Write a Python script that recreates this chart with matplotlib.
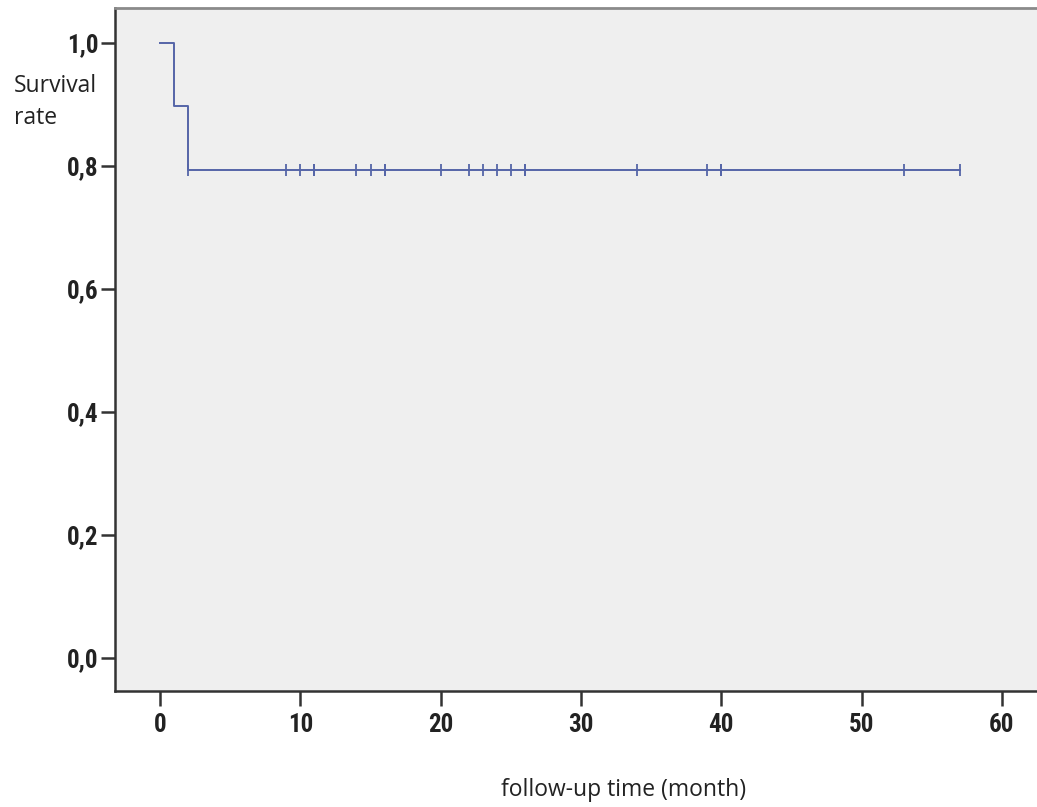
import matplotlib
matplotlib.use("Agg")
import matplotlib.pyplot as plt
from matplotlib import font_manager
import numpy as np

# Kaplan-Meier step data
step_times = [0, 1, 2, 57]
step_surv = [1.0, 0.897, 0.793, 0.793]
censor_times = [2, 9, 10, 11, 11, 14, 15, 16, 16, 20, 22, 23, 24, 25, 26, 26, 34, 39, 40, 40, 53, 57]
censor_surv = 0.793

x_ticks = [0, 10, 20, 30, 40, 50, 60]
y_ticks = [0.0, 0.2, 0.4, 0.6, 0.8, 1.0]
y_labels = ["0,0", "0,2", "0,4", "0,6", "0,8", "1,0"]

names = {f.name for f in font_manager.fontManager.ttflist}
cond = [n for n in ["Liberation Sans Narrow", "Roboto Condensed", "DejaVu Sans Condensed"] if n in names]
tick_family = cond + ["DejaVu Sans"]

W, H = 1037, 807
fig = plt.figure(figsize=(W / 100, H / 100), dpi=100)
fig.patch.set_facecolor("white")
ax = fig.add_axes([115 / W, 1 - 691 / H, (W - 115) / W, (691 - 8) / H])
ax.set_facecolor("#efefef")

line_color = "#5565a8"
ax.step(step_times, step_surv, where="post", color=line_color, lw=1.4)
ax.plot(censor_times, [censor_surv] * len(censor_times), linestyle="none",
        marker="|", markersize=9, markeredgewidth=1.3, color=line_color)

ax.set_xlim(-3.21, 62.5)
ax.set_ylim(-0.054, 1.057)

ax.spines["right"].set_visible(False)
ax.spines["top"].set_color("#8a8a8a")
ax.spines["top"].set_linewidth(2)
ax.spines["left"].set_color("#333333")
ax.spines["bottom"].set_color("#333333")
ax.spines["left"].set_linewidth(1.8)
ax.spines["bottom"].set_linewidth(1.8)

tick_font = dict(family=tick_family, weight="bold", size=18, stretch="condensed")
ax.set_xticks(x_ticks)
ax.set_xticklabels([str(v) for v in x_ticks], fontdict=tick_font)
ax.set_yticks(y_ticks)
ax.set_yticklabels(y_labels, fontdict=tick_font)
ax.tick_params(axis="x", length=11, width=1.8, color="#333333", pad=5, labelcolor="#222222")
ax.tick_params(axis="y", length=10, width=1.8, color="#333333", pad=2, labelcolor="#222222")

label_font = dict(family=["Open Sans", "DejaVu Sans"], size=16.5, color="#222222")
fig.text(14 / W, 1 - 86 / H, "Survival", ha="left", va="center", **label_font)
fig.text(14 / W, 1 - 118 / H, "rate", ha="left", va="center", **label_font)
fig.text(624 / W, 1 - 790 / H, "follow-up time (month)", ha="center", va="center", **label_font)

fig.savefig("out.png", dpi=100)
